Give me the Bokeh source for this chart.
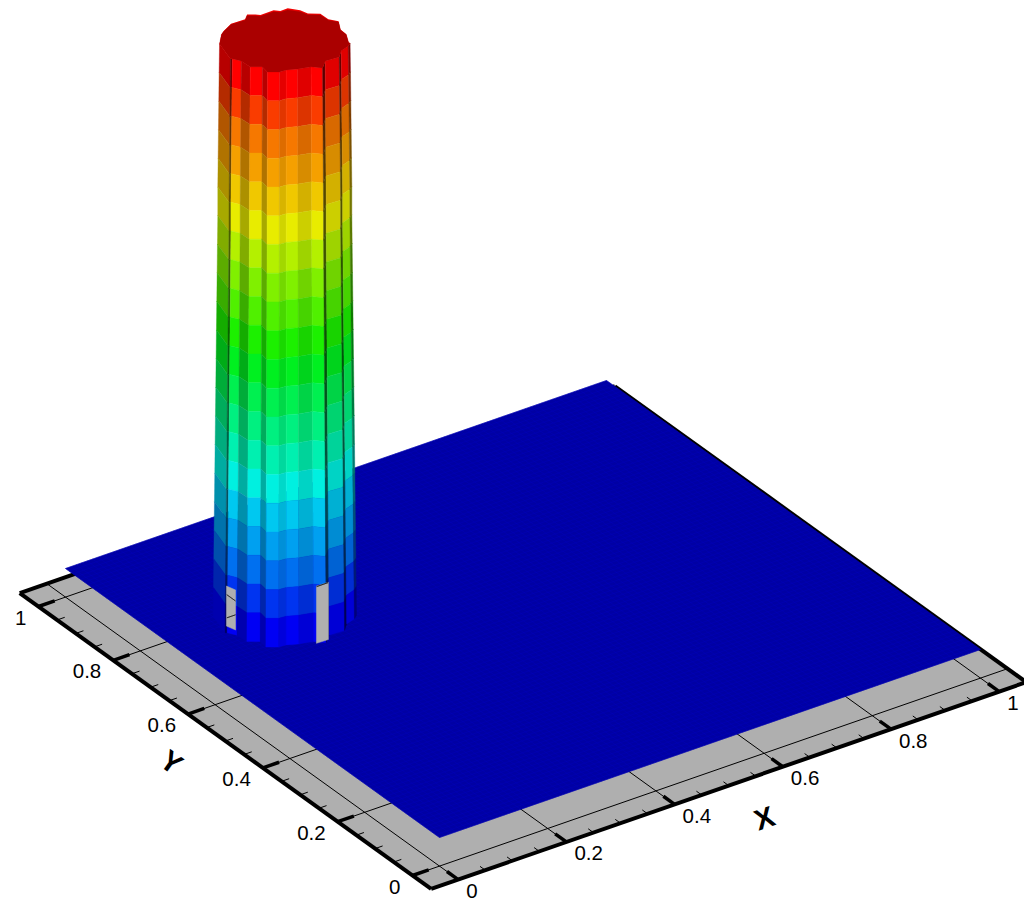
from bokeh.plotting import figure
from bokeh.models import Range1d
from bokeh.core.properties import value
from bokeh.embed import file_html
from bokeh.resources import INLINE
import numpy as np

x_major = [0, 0.2, 0.4, 0.6, 0.8, 1]
y_major = [0, 0.2, 0.4, 0.6, 0.8, 1]
x_labels = ["0", "0.2", "0.4", "0.6", "0.8", "1"]
y_labels = ["0", "0.2", "0.4", "0.6", "0.8", "1"]
minor_step = 0.05
floor_lo, floor_hi = -0.05, 1.05
floor_z = -0.05
mesh_n = 100

# column: contour bands from top to bottom
band_colors = ["#FF0000", "#FA3C00", "#F67800", "#F5A000", "#F0C800", "#E8EC00", "#B4F000",
               "#80F000", "#50F000", "#1CF000", "#00F020", "#00F050", "#00F080", "#00F0B0",
               "#00F0E0", "#00C8F0", "#00A0F0", "#0070F0", "#0034F0", "#0000F4"]
band_radius = [0.0974, 0.098, 0.0985, 0.099, 0.0995, 0.1, 0.1, 0.1005, 0.101, 0.1015, 0.102,
               0.1025, 0.103, 0.1035, 0.104, 0.1045, 0.105, 0.1055, 0.106, 0.1065, 0.107]
column_x, column_y, column_top = 0.198, 0.70, 1.0
edge_u = [-1.02, -0.85, -0.82, -0.68, -0.54, -0.35, -0.27, -0.086, 0.02, 0.2, 0.41, 0.59, 0.63, 0.85, 0.88, 0.99, 1.02]
edge_v = [0.12, 0.59, 0.59, 0.66, 0.84, 0.84, 1.0, 1.0, 0.94, 0.91, 0.84, 0.875, 0.66, 0.53, 0.34, 0.19, 0.1]
facet_shade = [0.72, 0.4, 1.0, 0.72, 1.0, 0.72, 1.0, 0.9, 1.0, 0.88, 1.0, 0.35, 0.88, 0.35, 0.88, 0.5]
rim_u = [-0.99, -0.955, -0.84, -0.62, -0.59, -0.46, -0.38, -0.175, -0.07, 0.045, 0.24, 0.36, 0.555, 0.68, 0.84, 0.87, 0.96, 0.997]
rim_v = [-0.18, -0.28, -0.51, -0.65, -0.80, -0.80, -0.78, -0.93, -0.91, -0.99, -0.93, -0.83, -0.82, -0.65, -0.59, -0.33, -0.18, 0.08]
gap_u0, gap_u1, gap_v, gap_h = [-0.83, 0.45], [-0.70, 0.62], [0.72, 1.0], [0.07, 0.10]

GREY, BLUE, MESH = "#AFAFAF", "#0000A4", "#0000BE"


def proj(X, Y, Z):
    X, Y, Z = np.asarray(X, float), np.asarray(Y, float), np.asarray(Z, float)
    return 439 + 541 * X - 374 * Y, 837 - 188 * X - 269 * Y - 572 * Z


def surf(u, v, z, r):
    cx, cy = proj(column_x, column_y, z)
    return cx + 657 * r * np.asarray(u, float), cy + 328 * r * np.asarray(v, float)


def seg(p, X0, Y0, X1, Y1, **kw):
    xs, ys = [], []
    for a, b, c, d in zip(X0, Y0, X1, Y1):
        sx, sy = proj([a, c], [b, d], floor_z)
        xs.append(list(sx)); ys.append(list(sy))
    p.multi_line(xs, ys, **kw)


p = figure(width=1024, height=902, x_range=Range1d(0, 1024), y_range=Range1d(902, 0),
           output_backend="svg", toolbar_location=None, min_border=0)
p.axis.visible = False
p.grid.visible = False
p.outline_line_color = None
p.background_fill_color = "white"

lo, hi = floor_lo, floor_hi
# floor
fx, fy = proj([lo, hi, hi, lo], [lo, lo, hi, hi], floor_z)
p.patch(fx, fy, fill_color=GREY, line_color=None)
# grid
seg(p, x_major, [lo]*6, x_major, [hi]*6, line_color="black", line_width=1)
seg(p, [lo]*6, y_major, [hi]*6, y_major, line_color="black", line_width=1)
# ticks
minor = np.round(np.arange(0, 1.0001, minor_step), 3)
minor = [m for m in minor if m not in x_major]
seg(p, minor, [lo]*len(minor), minor, [lo + 0.014]*len(minor), line_color="black", line_width=1)
seg(p, [lo]*len(minor), minor, [lo + 0.014]*len(minor), minor, line_color="black", line_width=1)
seg(p, x_major, [lo]*6, x_major, [lo + 0.03]*6, line_color="black", line_width=3.5)
seg(p, [lo]*6, y_major, [lo + 0.03]*6, y_major, line_color="black", line_width=3.5)
# frame
seg(p, [hi, lo, lo, lo], [lo, lo, lo, hi], [lo, lo, lo, hi], [lo, lo, hi, hi], line_color="black", line_width=4)
seg(p, [hi], [hi], [hi], [lo], line_color="black", line_width=4)

# z=0 surface
sx, sy = proj([0, 1, 1, 0], [0, 0, 1, 1], 0)
p.patch(sx, sy, fill_color=BLUE, line_color=BLUE, line_width=0.5)
grid = np.linspace(0, 1, mesh_n + 1)
xs, ys = [], []
for g in grid:
    a, b = proj([g, g], [0, 1], 0); xs.append(list(a)); ys.append(list(b))
    a, b = proj([0, 1], [g, g], 0); xs.append(list(a)); ys.append(list(b))
p.multi_line(xs, ys, line_color=MESH, line_width=0.5, line_alpha=0.8)


def shade(col, f):
    r, g, b = int(col[1:3], 16), int(col[3:5], 16), int(col[5:7], 16)
    return "#%02X%02X%02X" % (int(r * f), int(g * f), int(b * f))


# column walls
nb = len(band_colors)
zs = column_top * (1 - np.arange(nb + 1) / nb)
qx, qy, qc = [], [], []
for i in range(len(edge_u) - 1):
    for k in range(nb):
        u = [edge_u[i], edge_u[i + 1], edge_u[i + 1], edge_u[i]]
        v = [edge_v[i], edge_v[i + 1], edge_v[i + 1], edge_v[i]]
        z = [zs[k], zs[k], zs[k + 1], zs[k + 1]]
        r = [band_radius[k], band_radius[k], band_radius[k + 1], band_radius[k + 1]]
        a, b = zip(*[surf(u[j], v[j], z[j], r[j]) for j in range(4)])
        qx.append([float(t) for t in a]); qy.append([float(t) for t in b])
        qc.append(shade(band_colors[k], facet_shade[i]))
p.patches(qx, qy, fill_color=qc, line_color=qc, line_width=0.4)

# gaps at the foot of the column
for u0, u1, vf, h in zip(gap_u0, gap_u1, gap_v, gap_h):
    r = band_radius[-1]
    v0, v1 = vf * np.sqrt(1 - u0 ** 2), vf * np.sqrt(1 - u1 ** 2)
    a, b = zip(*[surf(u0, v0, 0, r), surf(u1, v1, 0, r), surf(u1, v1, h, r), surf(u0, v0, h, r)])
    a = [float(t) for t in a]; b = [float(t) for t in b]
    p.patch(a, b, fill_color=GREY, line_color=GREY, line_width=0.5)
    t = np.linspace(-0.05, 1.05, 1101)
    for gx, gy in [(np.full_like(t, 0.2), t), (t, np.full_like(t, 0.8))]:
        lx, ly = proj(gx, gy, floor_z)
        ly = ly - 3
        m = (lx >= a[0]) & (lx <= a[1])
        if m.any():
            top = np.interp(lx[m], [a[3], a[2]], [b[3], b[2]])
            bot = np.interp(lx[m], [a[0], a[1]], [b[0], b[1]])
            mm = (ly[m] > top) & (ly[m] < bot)
            if mm.any():
                p.line(lx[m][mm], ly[m][mm], line_color="black", line_width=1)

# column top
tu = rim_u + edge_u[::-1]
tv = rim_v + edge_v[::-1]
a, b = surf(tu, tv, column_top, band_radius[0])
p.patch(a, b, fill_color="#F00000", line_color=None)
a, b = surf(tu, [t * 0.95 if t < 0 else t for t in tv], column_top, band_radius[0])
p.patch(a, b, fill_color="#AA0000", line_color="#AA0000", line_width=0.3)

# labels
font = value("Liberation Sans")
tx, ty = proj(x_major, [lo]*6, floor_z)
p.text(tx + 8, ty + 11.5, text=x_labels, text_font=font, text_font_size="20.5px", text_align="left",
       text_baseline="middle", text_color="black")
tx, ty = proj([lo]*6, y_major, floor_z)
p.text(tx - 12, ty + 11, text=y_labels, text_font=font, text_font_size="20.5px", text_align="right",
       text_baseline="middle", text_color="black")
ax, ay = proj(0.488, -0.163, floor_z)
p.text([ax], [ay], text=["X"], text_font=font, text_font_size="29px", text_font_style="bold", text_align="center",
       text_baseline="middle", angle=np.radians(19), text_color="black")
ax, ay = proj(-0.154, 0.494, floor_z)
p.text([ax], [ay], text=["Y"], text_font=font, text_font_size="29px", text_font_style="bold", text_align="center",
       text_baseline="middle", angle=np.radians(-36), text_color="black")

open("out.html", "w").write(file_html(p, INLINE))
